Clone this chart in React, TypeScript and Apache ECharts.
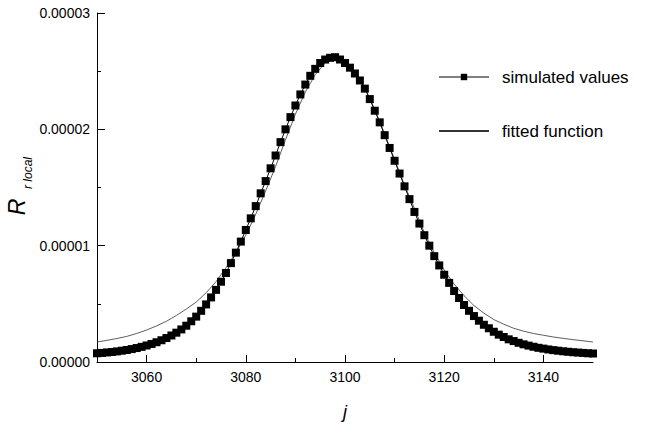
import React, { useEffect, useRef } from "react";
import * as echarts from "echarts";

// j values of the simulated points
const simJ = [
  3050, 3051, 3052, 3053, 3054, 3055, 3056, 3057, 3058, 3059,
  3060, 3061, 3062, 3063, 3064, 3065, 3066, 3067, 3068, 3069,
  3070, 3071, 3072, 3073, 3074, 3075, 3076, 3077, 3078, 3079,
  3080, 3081, 3082, 3083, 3084, 3085, 3086, 3087, 3088, 3089,
  3090, 3091, 3092, 3093, 3094, 3095, 3096, 3097, 3098, 3099,
  3100, 3101, 3102, 3103, 3104, 3105, 3106, 3107, 3108, 3109,
  3110, 3111, 3112, 3113, 3114, 3115, 3116, 3117, 3118, 3119,
  3120, 3121, 3122, 3123, 3124, 3125, 3126, 3127, 3128, 3129,
  3130, 3131, 3132, 3133, 3134, 3135, 3136, 3137, 3138, 3139,
  3140, 3141, 3142, 3143, 3144, 3145, 3146, 3147, 3148, 3149,
  3150,
];

// simulated R_r,local values, in units of 1e-6
const simValuesMicro = [
  0.75, 0.78, 0.82, 0.86, 0.91, 0.97, 1.03, 1.11, 1.2, 1.3,
  1.42, 1.55, 1.7, 1.87, 2.06, 2.28, 2.52, 2.8, 3.12, 3.5,
  3.9, 4.4, 4.95, 5.55, 6.2, 6.9, 7.65, 8.5, 9.4, 10.35,
  11.35, 12.35, 13.4, 14.5, 15.55, 16.65, 17.75, 18.9, 20.0, 21.05,
  22.05, 23.0, 23.85, 24.6, 25.2, 25.7, 26.0, 26.15, 26.2, 26.0,
  25.7, 25.3, 24.8, 24.2, 23.5, 22.6, 21.6, 20.6, 19.5, 18.4,
  17.3, 16.2, 15.1, 14.0, 12.9, 11.9, 10.9, 10.0, 9.1, 8.3,
  7.5, 6.8, 6.1, 5.5, 4.9, 4.4, 3.95, 3.55, 3.2, 2.9,
  2.6, 2.35, 2.15, 1.95, 1.8, 1.65, 1.52, 1.41, 1.31, 1.22,
  1.15, 1.08, 1.02, 0.97, 0.92, 0.88, 0.84, 0.81, 0.78, 0.75,
  0.73,
];

// j values of the fitted function samples
const fitJ = [
  3050, 3052, 3054, 3056, 3058, 3060, 3062, 3064, 3066, 3068,
  3070, 3072, 3074, 3076, 3078, 3080, 3082, 3084, 3086, 3088,
  3090, 3092, 3094, 3096, 3098, 3100, 3102, 3104, 3106, 3108,
  3110, 3112, 3114, 3116, 3118, 3120, 3122, 3124, 3126, 3128,
  3130, 3132, 3134, 3136, 3138, 3140, 3142, 3144, 3146, 3148,
  3150,
];

// fitted function values, in units of 1e-6
const fitValuesMicro = [
  1.72, 1.86, 2.02, 2.2, 2.45, 2.75, 3.1, 3.5, 4.0, 4.55,
  5.15, 5.95, 6.9, 8.1, 9.4, 10.9, 12.7, 14.7, 16.8, 19.1,
  21.3, 23.2, 24.7, 25.7, 26.1, 25.9, 25.0, 23.6, 21.7, 19.6,
  17.4, 15.2, 13.2, 11.1, 9.4, 7.9, 6.7, 5.7, 4.85, 4.2,
  3.65, 3.25, 2.9, 2.65, 2.45, 2.3, 2.15, 2.03, 1.92, 1.82,
  1.72,
];

const MICRO = 1e-6;

const xMajorTicks = [3060, 3080, 3100, 3120, 3140];
const xMinorTicks = [3070, 3090, 3110, 3130];

const seriesNames = ["simulated values", "fitted function"];

const FONT = "Liberation Sans, Arial, sans-serif";

export default function App() {
  const ref = useRef<HTMLDivElement>(null);

  useEffect(() => {
    if (!ref.current) return;
    const chart = echarts.init(ref.current, null, { renderer: "svg" });

    const simData = simJ.map((j, i) => [j, simValuesMicro[i] * MICRO]);
    const fitData = fitJ.map((j, i) => [j, fitValuesMicro[i] * MICRO]);

    const option: any = {
      animation: false,
      backgroundColor: "#ffffff",
      textStyle: { fontFamily: FONT, color: "#000" },
      grid: { left: 97, right: 52, top: 13, bottom: 59 },
      legend: {
        data: [
          { name: seriesNames[0], lineStyle: { width: 1 } },
          { name: seriesNames[1], itemStyle: { opacity: 0 } },
        ],
        orient: "vertical",
        left: 433,
        top: 62,
        itemWidth: 50,
        itemHeight: 8,
        itemGap: 34,
        textStyle: {
          fontFamily: FONT,
          fontSize: 17,
          color: "#000",
          lineHeight: 20,
          padding: [0, 0, 0, 8],
        },
      },
      xAxis: [
        {
          type: "value",
          min: 3050,
          max: 3150,
          interval: 10,
          splitLine: { show: false },
          axisLine: { show: true, lineStyle: { color: "#000", width: 1 } },
          axisTick: {
            show: true,
            inside: true,
            length: 7,
            customValues: xMajorTicks,
            lineStyle: { color: "#000" },
          },
          axisLabel: {
            customValues: xMajorTicks,
            fontFamily: FONT,
            fontSize: 14,
            color: "#000",
            margin: 8,
            formatter: (v: number) => String(v),
          },
          name: "j",
          nameLocation: "middle",
          nameGap: 41,
          nameTextStyle: {
            fontFamily: FONT,
            fontSize: 18,
            fontStyle: "italic",
            color: "#000",
          },
        },
        {
          type: "value",
          min: 3050,
          max: 3150,
          interval: 10,
          position: "bottom",
          offset: 0,
          splitLine: { show: false },
          axisLine: { show: false },
          axisTick: {
            show: true,
            inside: true,
            length: 4,
            customValues: xMinorTicks,
            lineStyle: { color: "#000" },
          },
          axisLabel: { show: false },
        },
      ],
      yAxis: {
        type: "value",
        min: 0,
        max: 0.00003,
        interval: 0.00001,
        splitLine: { show: false },
        axisLine: { show: true, lineStyle: { color: "#000", width: 1 } },
        axisTick: {
          show: true,
          inside: true,
          length: 8,
          lineStyle: { color: "#000" },
        },
        minorTick: {
          show: true,
          splitNumber: 2,
          length: 4,
          lineStyle: { color: "#000" },
        },
        axisLabel: {
          fontFamily: FONT,
          fontSize: 14,
          color: "#000",
          margin: 7,
          formatter: (v: number) => v.toFixed(5),
        },
      },
      graphic: [
        {
          type: "text",
          x: 17,
          y: 207,
          rotation: Math.PI / 2,
          style: {
            text: "R",
            fontFamily: FONT,
            fontSize: 23,
            fontStyle: "italic",
            fill: "#000",
            align: "center",
            verticalAlign: "middle",
          },
        },
        {
          type: "text",
          x: 28,
          y: 173,
          rotation: Math.PI / 2,
          style: {
            text: "r local",
            fontFamily: FONT,
            fontSize: 12,
            fontStyle: "italic",
            fill: "#000",
            align: "center",
            verticalAlign: "middle",
          },
        },
      ],
      series: [
        {
          name: seriesNames[1],
          type: "line",
          data: fitData,
          symbol: "none",
          lineStyle: { color: "#333", width: 0.8 },
          itemStyle: { color: "#333" },
          z: 2,
        },
        {
          name: seriesNames[0],
          type: "line",
          data: simData,
          symbol: "rect",
          symbolSize: 8,
          showAllSymbol: true,
          lineStyle: { color: "#000", width: 1 },
          itemStyle: { color: "#000" },
          z: 3,
        },
      ],
    };

    chart.setOption(option);
    return () => chart.dispose();
  }, []);

  return (
    <div
      ref={ref}
      style={{ width: 645, height: 426, position: "absolute", left: 0, top: 0 }}
    />
  );
}
